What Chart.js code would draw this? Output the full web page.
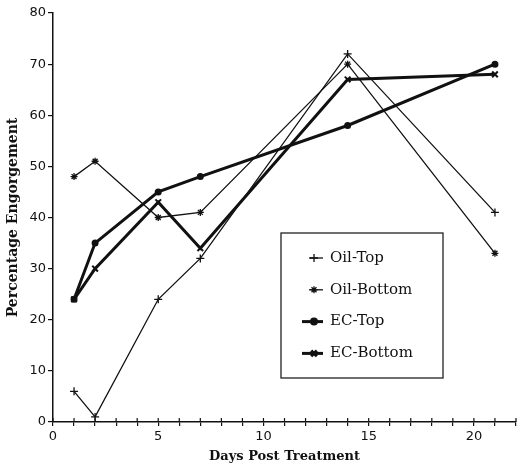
<!DOCTYPE html>
<html>
<head>
<meta charset="utf-8">
<script src="https://cdn.jsdelivr.net/npm/chart.js@4.4.1/dist/chart.umd.min.js"></script>
<style>
  html, body { margin: 0; padding: 0; background: #fff; }
  #wrap { width: 523px; height: 464px; }
</style>
</head>
<body>
<div id="wrap"><canvas id="chart" width="523" height="464"></canvas></div>
<script>
const days = [1, 2, 5, 7, 14, 21];
const oilTop = [6, 1, 24, 32, 72, 41];
const oilBottom = [48, 51, 40, 41, 70, 33];
const ecTop = [24, 35, 45, 48, 58, 70];
const ecBottom = [24, 30, 43, 34, 67, 68];
const seriesNames = ["Oil-Top", "Oil-Bottom", "EC-Top", "EC-Bottom"];

const ink = "#111";

function points(values) {
  return days.map((d, i) => ({ x: d, y: values[i] }));
}

function makeSet(label, values, style, radius, width) {
  return {
    label,
    data: points(values),
    borderColor: ink,
    backgroundColor: ink,
    borderWidth: width,
    pointStyle: style,
    pointRadius: radius,
    pointBorderWidth: width > 2 ? 2 : 1.3,
    pointBorderColor: ink,
    pointBackgroundColor: ink,
    tension: 0,
    fill: false
  };
}

// legend box drawn inside the plot, like the original
const boxLegend = {
  id: "boxLegend",
  afterDatasetsDraw(chart) {
    const ctx = chart.ctx;
    const left = 281, top = 233, w = 162, h = 145;
    ctx.save();
    ctx.strokeStyle = "#222";
    ctx.lineWidth = 1.3;
    ctx.fillStyle = "#fff";
    ctx.fillRect(left, top, w, h);
    ctx.strokeRect(left, top, w, h);
    ctx.font = "15px 'DejaVu Serif'";
    ctx.textBaseline = "middle";
    chart.data.datasets.forEach((ds, i) => {
      const y = 258 + i * 31.8;
      const bold = ds.borderWidth > 2;
      const x0 = bold ? 302 : 309;
      ctx.strokeStyle = ink;
      ctx.lineWidth = ds.borderWidth;
      ctx.beginPath();
      ctx.moveTo(x0, y);
      ctx.lineTo(323, y);
      ctx.stroke();
      Chart.helpers.drawPoint(ctx, {
        pointStyle: ds.pointStyle,
        radius: ds.pointRadius,
        borderWidth: ds.pointBorderWidth
      }, 314, y);
      ctx.fillStyle = ink;
      ctx.fillText(ds.label, 330, y);
    });
    ctx.restore();
  }
};

// x ticks cross the axis line: add the inner half
const innerTicks = {
  id: "innerTicks",
  afterDraw(chart) {
    const xs = chart.scales.x;
    const ctx = chart.ctx;
    ctx.save();
    ctx.strokeStyle = ink;
    ctx.lineWidth = 1.2;
    xs.ticks.forEach(t => {
      const px = xs.getPixelForValue(t.value);
      ctx.beginPath();
      ctx.moveTo(px, xs.top);
      ctx.lineTo(px, xs.top - 4);
      ctx.stroke();
    });
    ctx.restore();
  }
};

new Chart(document.getElementById("chart"), {
  type: "line",
  data: {
    datasets: [
      makeSet(seriesNames[0], oilTop, "cross", 4, 1.3),
      makeSet(seriesNames[1], oilBottom, "star", 3.5, 1.3),
      makeSet(seriesNames[2], ecTop, "circle", 2.5, 3),
      makeSet(seriesNames[3], ecBottom, "crossRot", 4, 3)
    ]
  },
  options: {
    responsive: false,
    animation: false,
    layout: { padding: { top: 13, right: 7, left: 0, bottom: 0 } },
    plugins: {
      legend: { display: false },
      tooltip: { enabled: false }
    },
    scales: {
      x: {
        type: "linear",
        min: 0,
        max: 22,
        border: { color: ink, width: 1.5 },
        grid: { drawOnChartArea: false, color: ink, lineWidth: 1.2, tickLength: 4 },
        ticks: {
          stepSize: 1,
          autoSkip: false,
          maxRotation: 0,
          padding: 3,
          color: ink,
          font: { family: "'DejaVu Sans'", size: 13 },
          callback: v => (v % 5 === 0 ? String(v) : "")
        },
        title: {
          display: true,
          text: "Days Post Treatment",
          color: ink,
          font: { family: "'DejaVu Serif'", size: 13, weight: "bold" },
          padding: { top: 0, bottom: 0 }
        },
        afterFit(scale) { scale.height = 42; }
      },
      y: {
        min: 0,
        max: 80,
        border: { color: ink, width: 1.5 },
        grid: { drawOnChartArea: false, color: ink, lineWidth: 1.2, tickLength: 5 },
        ticks: {
          stepSize: 10,
          padding: 2,
          color: ink,
          font: { family: "'DejaVu Sans'", size: 13 }
        },
        title: {
          display: true,
          text: "Percentage Engorgement",
          color: ink,
          font: { family: "'DejaVu Serif'", size: 14, weight: "bold" },
          padding: { top: 5, bottom: 0 }
        },
        afterFit(scale) { scale.width = 53; }
      }
    }
  },
  plugins: [boxLegend, innerTicks]
});
</script>
</body>
</html>
